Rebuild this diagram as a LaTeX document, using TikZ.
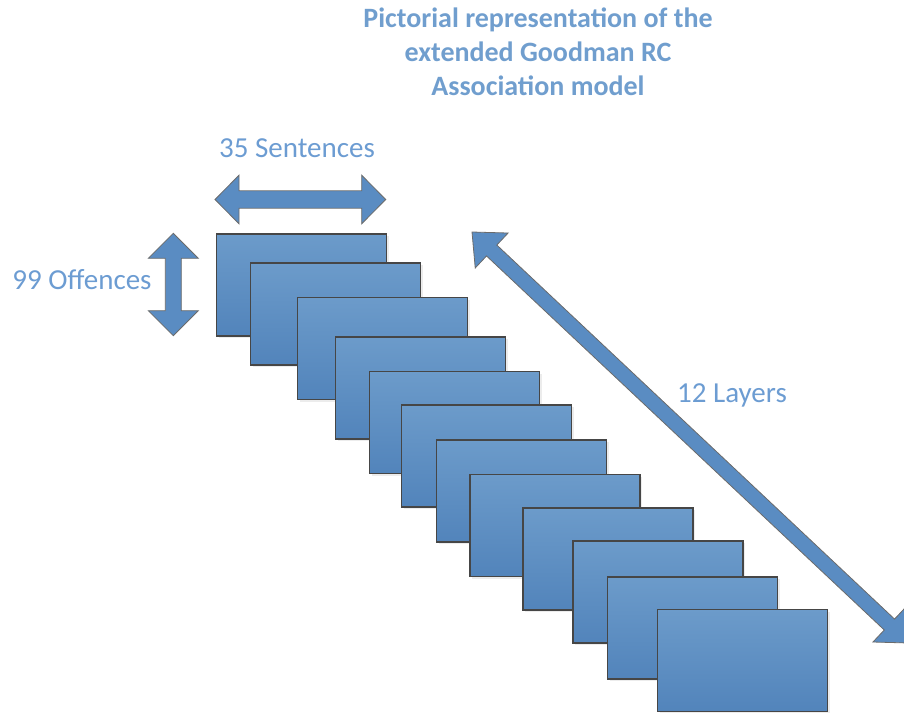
\documentclass[tikz,border=0pt]{standalone}
\usepackage{fontspec}
\setmainfont{Carlito}
\usetikzlibrary{shadows}
\definecolor{txtblue}{RGB}{108,156,210}
\definecolor{ttlblue}{RGB}{112,158,206}
\definecolor{boxtop}{RGB}{108,155,202}
\definecolor{boxbot}{RGB}{82,132,187}
\definecolor{arrowfill}{RGB}{90,140,194}
\definecolor{edgegrey}{RGB}{70,70,70}
\tikzset{
  layer/.style={draw=edgegrey, line width=1.3pt, top color=boxtop, bottom color=boxbot,
    minimum width=170pt, minimum height=102pt, anchor=north west, inner sep=0pt,
    drop shadow={opacity=0.15, shadow xshift=2.5pt, shadow yshift=-2.5pt}},
  arrowbox/.style={draw=edgegrey!80, line width=0.8pt, fill=arrowfill, line join=miter},
  lbl/.style={text=txtblue, font=\fontsize{29}{32}\selectfont, inner sep=0pt},
  ttl/.style={text=ttlblue, font=\fontsize{28}{34}\selectfont\bfseries, align=center, inner sep=0pt},
  pics/dblarrow/.style n args={4}{code={
    \filldraw[arrowbox] (0,0) -- (#4,#3) -- (#4,#2) -- (#1-#4,#2) -- (#1-#4,#3) -- (#1,0)
      -- (#1-#4,-#3) -- (#1-#4,-#2) -- (#4,-#2) -- (#4,-#3) -- cycle;
  }}
}
\begin{document}
\begin{tikzpicture}[x=1pt,y=-1pt]
\useasboundingbox (0,0) rectangle (904,712);
\clip (0,0) rectangle (904,712);
% title
\node[ttl] (title) at (538,52) {Pictorial representation of the\\extended Goodman RC\\Association model};
% layers
\node[layer] (l1) at (215.7,233.3) {};
\node[layer] (l2) at (250,262.3) {};
\node[layer] (l3) at (296.7,296.7) {};
\node[layer] (l4) at (334.7,336.3) {};
\node[layer] (l5) at (369,370.7) {};
\node[layer] (l6) at (401,404.3) {};
\node[layer] (l7) at (435.7,439.3) {};
\node[layer] (l8) at (469.3,473.7) {};
\node[layer] (l9) at (522.3,507.3) {};
\node[layer] (l10) at (572.3,540.3) {};
\node[layer] (l11) at (606.7,576.3) {};
\node[layer] (l12) at (657,608.7) {};
% arrows
\coordinate (hs) at (215,199.5);
\coordinate (vs) at (173.3,233.3);
\coordinate (ds) at (472,232);
\pic at (hs) {dblarrow={170.7}{8.7}{24.3}{24}};
\pic[rotate=-90] at (vs) {dblarrow={102.4}{8}{25}{25}};
\pic[rotate=-43.24] at (ds) {dblarrow={600}{7.5}{24}{27}};
% labels
\node[lbl] (sent) at (297,148) {35 Sentences};
\node[lbl] (off) at (82,280) {99 Offences};
\node[lbl] (lay) at (732,395) {12 Layers};
\end{tikzpicture}
\end{document}
